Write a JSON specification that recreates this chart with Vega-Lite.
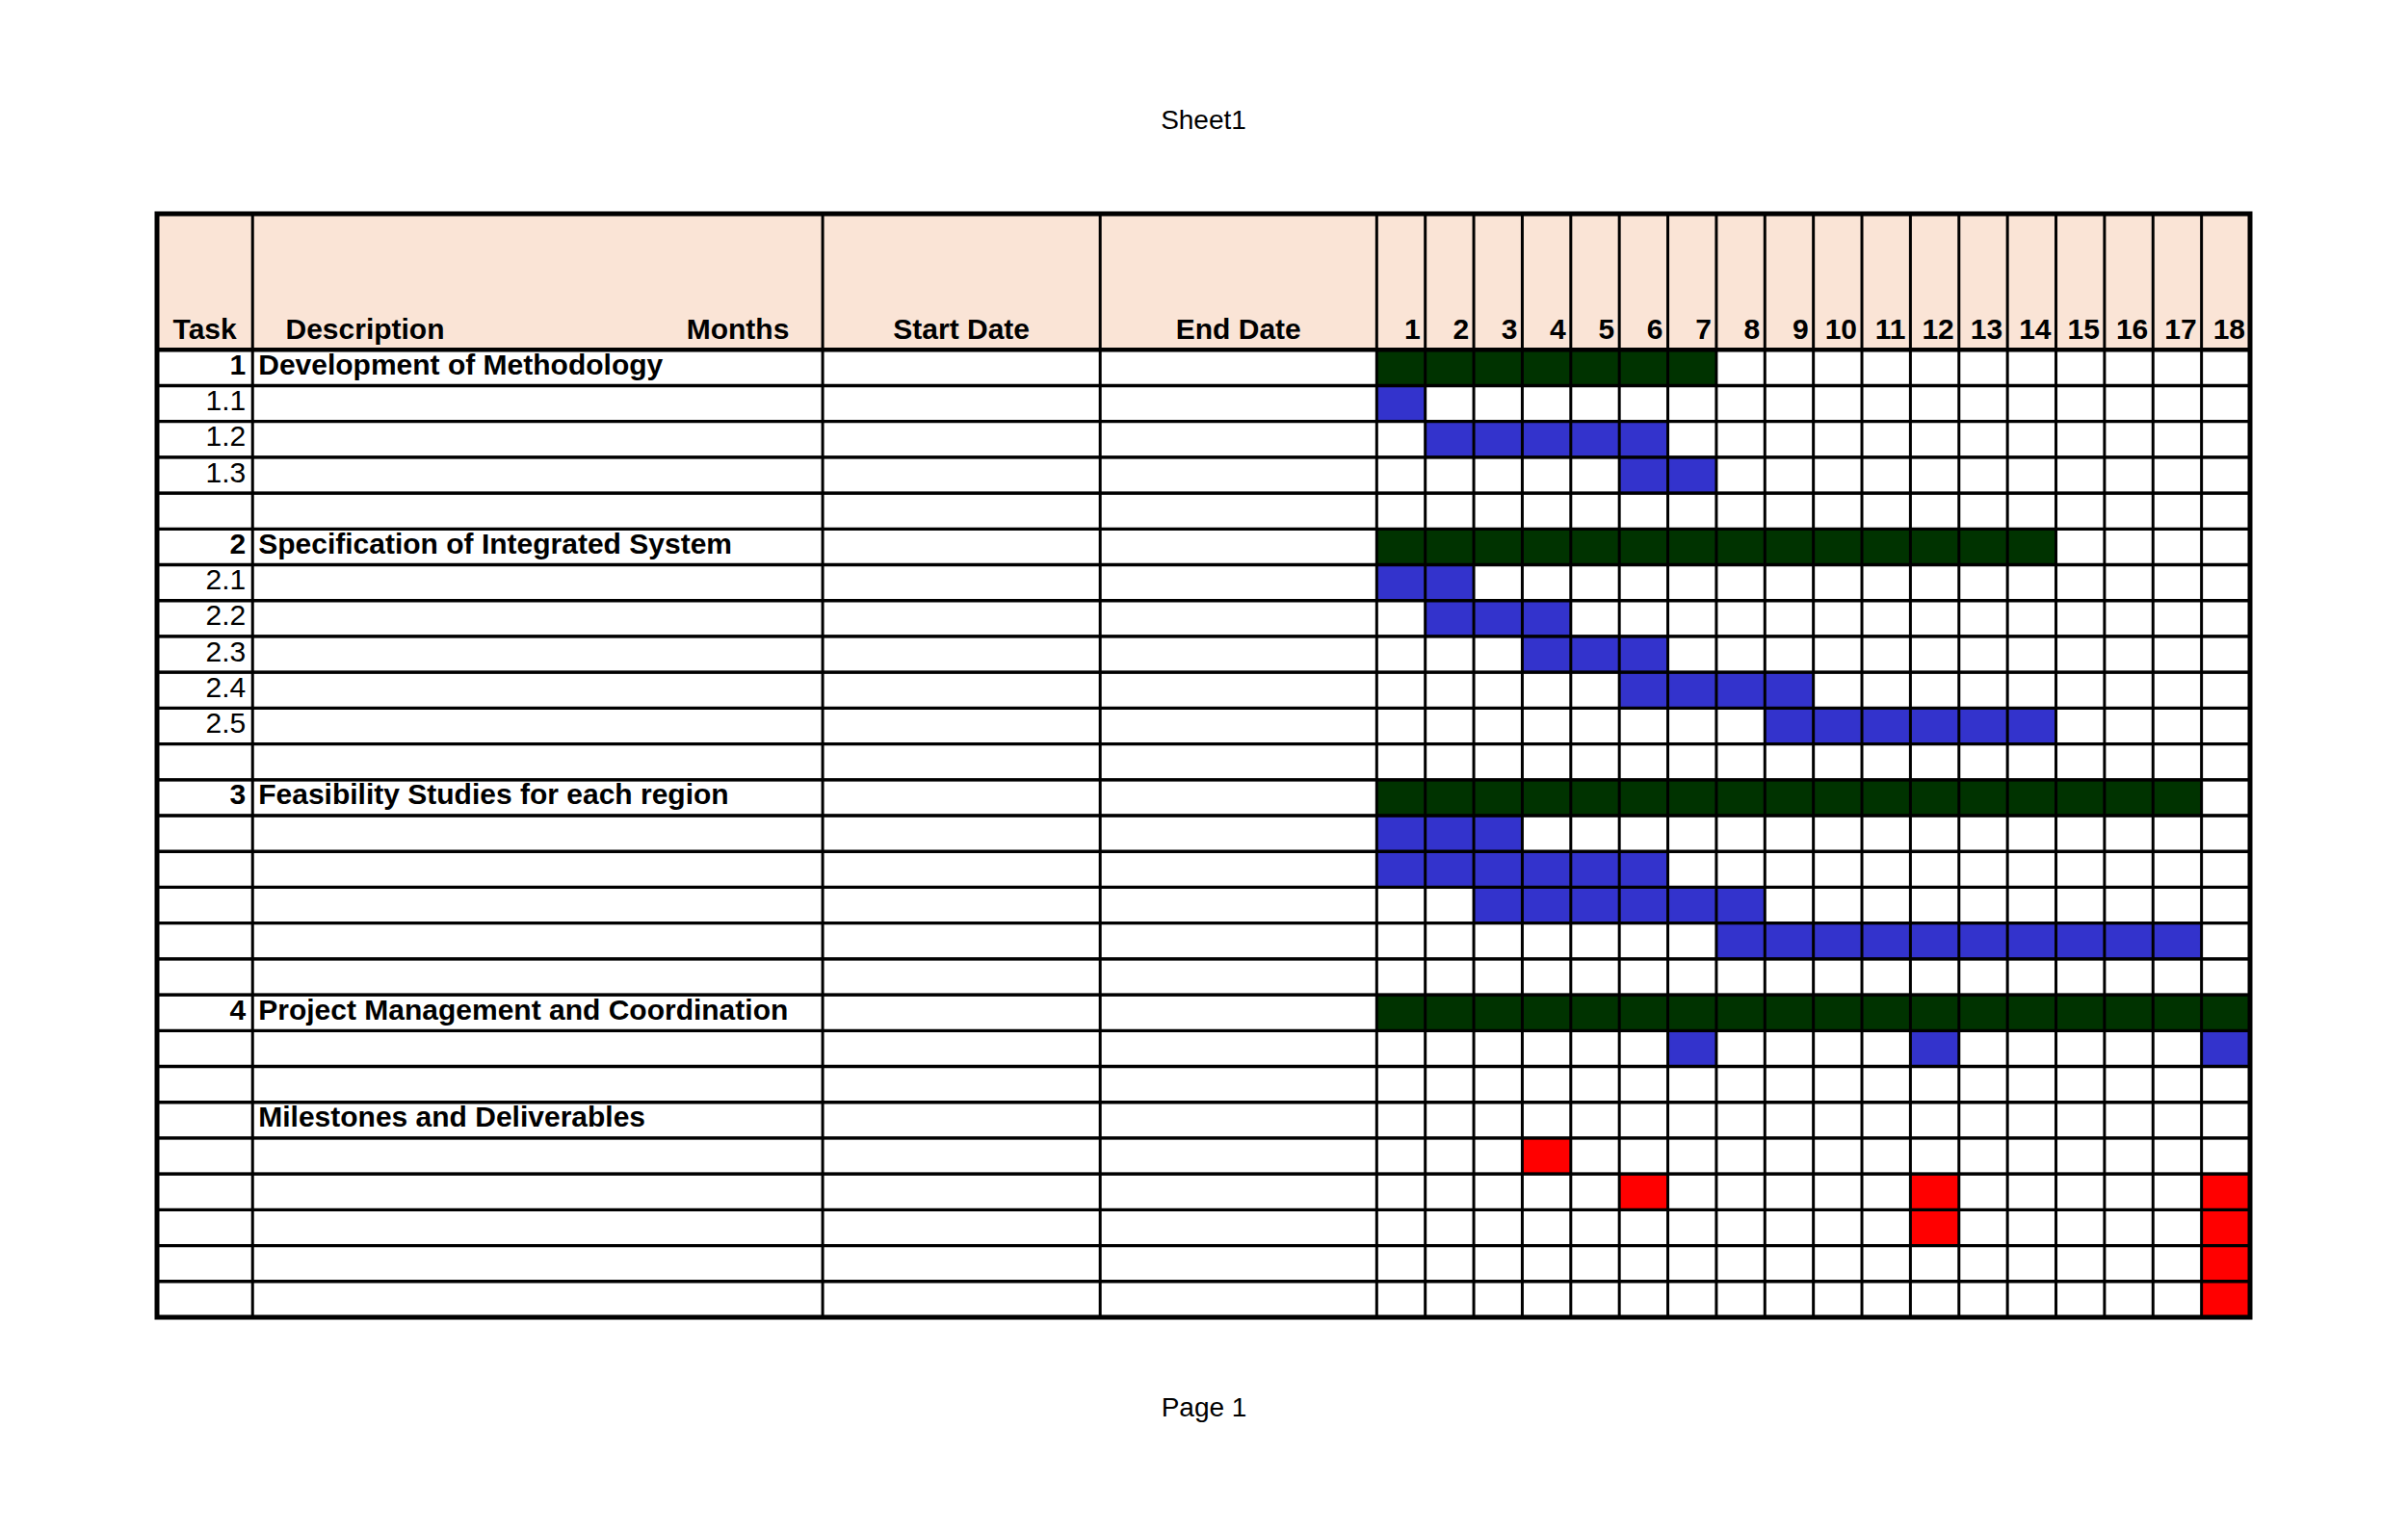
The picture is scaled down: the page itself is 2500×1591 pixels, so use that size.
{
  "$schema": "https://vega.github.io/schema/vega-lite/v6.json",
  "autosize": {"type": "none"},
  "width": 2173,
  "height": 1156,
  "padding": {"left": 163, "top": 217, "right": 164, "bottom": 218},
  "background": "white",
  "title": {"text": "Sheet1", "anchor": "middle", "offset": 55, "baseline": "alphabetic", "font": "Liberation Sans", "fontSize": 28, "fontWeight": "normal", "color": "black"},
  "config": {"view": {"stroke": null}, "text": {"font": "Liberation Sans", "color": "black", "fontSize": 30}},
  "datasets": {
    "cells": [
      {"row": 1, "start": 0, "end": 7, "kind": "summary"},
      {"row": 2, "start": 0, "end": 1, "kind": "activity"},
      {"row": 3, "start": 1, "end": 6, "kind": "activity"},
      {"row": 4, "start": 5, "end": 7, "kind": "activity"},
      {"row": 6, "start": 0, "end": 14, "kind": "summary"},
      {"row": 7, "start": 0, "end": 2, "kind": "activity"},
      {"row": 8, "start": 1, "end": 4, "kind": "activity"},
      {"row": 9, "start": 3, "end": 6, "kind": "activity"},
      {"row": 10, "start": 5, "end": 9, "kind": "activity"},
      {"row": 11, "start": 8, "end": 14, "kind": "activity"},
      {"row": 13, "start": 0, "end": 17, "kind": "summary"},
      {"row": 14, "start": 0, "end": 3, "kind": "activity"},
      {"row": 15, "start": 0, "end": 6, "kind": "activity"},
      {"row": 16, "start": 2, "end": 8, "kind": "activity"},
      {"row": 17, "start": 7, "end": 17, "kind": "activity"},
      {"row": 19, "start": 0, "end": 18, "kind": "summary"},
      {"row": 20, "start": 6, "end": 7, "kind": "activity"},
      {"row": 20, "start": 11, "end": 12, "kind": "activity"},
      {"row": 20, "start": 17, "end": 18, "kind": "activity"},
      {"row": 23, "start": 3, "end": 4, "kind": "milestone"},
      {"row": 24, "start": 5, "end": 6, "kind": "milestone"},
      {"row": 24, "start": 11, "end": 12, "kind": "milestone"},
      {"row": 24, "start": 17, "end": 18, "kind": "milestone"},
      {"row": 25, "start": 11, "end": 12, "kind": "milestone"},
      {"row": 25, "start": 17, "end": 18, "kind": "milestone"},
      {"row": 26, "start": 17, "end": 18, "kind": "milestone"},
      {"row": 27, "start": 17, "end": 18, "kind": "milestone"}
    ],
    "rows": [
      {"row": 1}, {"row": 2}, {"row": 3}, {"row": 4}, {"row": 5}, {"row": 6}, {"row": 7}, {"row": 8}, {"row": 9},
      {"row": 10}, {"row": 11}, {"row": 12}, {"row": 13}, {"row": 14}, {"row": 15}, {"row": 16}, {"row": 17}, {"row": 18},
      {"row": 19}, {"row": 20}, {"row": 21}, {"row": 22}, {"row": 23}, {"row": 24}, {"row": 25}, {"row": 26}, {"row": 27}
    ],
    "tasks": [
      {"row": 1, "task": "1", "description": "Development of Methodology", "level": "main"},
      {"row": 2, "task": "1.1", "level": "sub"},
      {"row": 3, "task": "1.2", "level": "sub"},
      {"row": 4, "task": "1.3", "level": "sub"},
      {"row": 6, "task": "2", "description": "Specification of Integrated System", "level": "main"},
      {"row": 7, "task": "2.1", "level": "sub"},
      {"row": 8, "task": "2.2", "level": "sub"},
      {"row": 9, "task": "2.3", "level": "sub"},
      {"row": 10, "task": "2.4", "level": "sub"},
      {"row": 11, "task": "2.5", "level": "sub"},
      {"row": 13, "task": "3", "description": "Feasibility Studies for each region", "level": "main"},
      {"row": 19, "task": "4", "description": "Project Management and Coordination", "level": "main"},
      {"row": 22, "description": "Milestones and Deliverables", "level": "heading"}
    ],
    "months": [
      {"month": 1}, {"month": 2}, {"month": 3}, {"month": 4}, {"month": 5}, {"month": 6},
      {"month": 7}, {"month": 8}, {"month": 9}, {"month": 10}, {"month": 11}, {"month": 12},
      {"month": 13}, {"month": 14}, {"month": 15}, {"month": 16}, {"month": 17}, {"month": 18}
    ]
  },
  "layer": [
    {
      "data": {"values": [{}]},
      "mark": {"type": "rect", "fill": "#FAE4D6"},
      "encoding": {
        "x": {"datum": -25.14, "type": "quantitative",
          "scale": {"domain": [-25.14, 18], "nice": false, "zero": false}, "axis": null},
        "x2": {"datum": 18},
        "y": {"datum": -3.296, "type": "quantitative",
          "scale": {"domain": [-3.296, 27.5], "reverse": true, "nice": false, "zero": false}, "axis": null},
        "y2": {"datum": 0.5}
      }
    },
    {
      "data": {"name": "cells"},
      "mark": {"type": "bar", "orient": "horizontal", "size": 37.54},
      "encoding": {
        "x": {"field": "start", "type": "quantitative", "axis": null},
        "x2": {"field": "end"},
        "y": {"field": "row", "type": "quantitative", "axis": null},
        "color": {"field": "kind", "type": "nominal",
          "scale": {"domain": ["summary", "activity", "milestone"], "range": ["#003300", "#3333CC", "#FF0000"]},
          "legend": null}
      }
    },
    {
      "data": {"name": "rows"},
      "mark": {"type": "bar", "orient": "horizontal", "size": 37.54, "filled": false, "stroke": "black", "strokeWidth": 3},
      "encoding": {
        "x": {"datum": -25.14, "type": "quantitative", "axis": null},
        "x2": {"datum": 18},
        "y": {"field": "row", "type": "quantitative", "axis": null}
      }
    },
    {
      "data": {"name": "months"},
      "transform": [{"filter": "datum.month < 18"}],
      "mark": {"type": "rule", "stroke": "black", "strokeWidth": 3},
      "encoding": {
        "x": {"field": "month", "type": "quantitative", "axis": null},
        "y": {"datum": -3.296, "type": "quantitative", "axis": null},
        "y2": {"datum": 27.5}
      }
    },
    {
      "data": {"values": [{}]},
      "mark": {"type": "rule", "stroke": "black", "strokeWidth": 3},
      "encoding": {
        "x": {"datum": 0, "type": "quantitative", "axis": null},
        "y": {"datum": -3.296, "type": "quantitative", "axis": null},
        "y2": {"datum": 27.5}
      }
    },
    {
      "data": {"values": [{}]},
      "mark": {"type": "rule", "stroke": "black", "strokeWidth": 3},
      "encoding": {
        "x": {"datum": -5.7, "type": "quantitative", "axis": null},
        "y": {"datum": -3.296, "type": "quantitative", "axis": null},
        "y2": {"datum": 27.5}
      }
    },
    {
      "data": {"values": [{}]},
      "mark": {"type": "rule", "stroke": "black", "strokeWidth": 3},
      "encoding": {
        "x": {"datum": -11.42, "type": "quantitative", "axis": null},
        "y": {"datum": -3.296, "type": "quantitative", "axis": null},
        "y2": {"datum": 27.5}
      }
    },
    {
      "data": {"values": [{}]},
      "mark": {"type": "rule", "stroke": "black", "strokeWidth": 3},
      "encoding": {
        "x": {"datum": -23.17, "type": "quantitative", "axis": null},
        "y": {"datum": -3.296, "type": "quantitative", "axis": null},
        "y2": {"datum": 27.5}
      }
    },
    {
      "data": {"values": [{}]},
      "mark": {"type": "rect", "filled": false, "stroke": "black", "strokeWidth": 5},
      "encoding": {
        "x": {"datum": -25.14, "type": "quantitative", "axis": null},
        "x2": {"datum": 18},
        "y": {"datum": -3.296, "type": "quantitative", "axis": null},
        "y2": {"datum": 27.5}
      }
    },
    {
      "data": {"values": [{}]},
      "mark": {"type": "rule", "stroke": "black", "strokeWidth": 4.5},
      "encoding": {
        "x": {"datum": -25.14, "type": "quantitative", "axis": null},
        "x2": {"datum": 18},
        "y": {"datum": 0.5, "type": "quantitative", "axis": null}
      }
    },
    {
      "data": {"values": [{}]},
      "mark": {"type": "text", "text": "Task", "fontWeight": "bold", "align": "center", "baseline": "alphabetic", "dy": -11},
      "encoding": {
        "x": {"datum": -24.155, "type": "quantitative", "axis": null},
        "y": {"datum": 0.5, "type": "quantitative", "axis": null}
      }
    },
    {
      "data": {"values": [{}]},
      "mark": {"type": "text", "text": "Description", "fontWeight": "bold", "align": "left", "baseline": "alphabetic", "dy": -11},
      "encoding": {
        "x": {"datum": -22.49, "type": "quantitative", "axis": null},
        "y": {"datum": 0.5, "type": "quantitative", "axis": null}
      }
    },
    {
      "data": {"values": [{}]},
      "mark": {"type": "text", "text": "Months", "fontWeight": "bold", "align": "right", "baseline": "alphabetic", "dy": -11},
      "encoding": {
        "x": {"datum": -12.11, "type": "quantitative", "axis": null},
        "y": {"datum": 0.5, "type": "quantitative", "axis": null}
      }
    },
    {
      "data": {"values": [{}]},
      "mark": {"type": "text", "text": "Start Date", "fontWeight": "bold", "align": "center", "baseline": "alphabetic", "dy": -11},
      "encoding": {
        "x": {"datum": -8.56, "type": "quantitative", "axis": null},
        "y": {"datum": 0.5, "type": "quantitative", "axis": null}
      }
    },
    {
      "data": {"values": [{}]},
      "mark": {"type": "text", "text": "End Date", "fontWeight": "bold", "align": "center", "baseline": "alphabetic", "dy": -11},
      "encoding": {
        "x": {"datum": -2.85, "type": "quantitative", "axis": null},
        "y": {"datum": 0.5, "type": "quantitative", "axis": null}
      }
    },
    {
      "data": {"name": "months"},
      "mark": {"type": "text", "fontWeight": "bold", "align": "right", "baseline": "alphabetic", "dx": -5, "dy": -11},
      "encoding": {
        "x": {"field": "month", "type": "quantitative", "axis": null},
        "y": {"datum": 0.5, "type": "quantitative", "axis": null},
        "text": {"field": "month", "type": "nominal"}
      }
    },
    {
      "data": {"name": "tasks"},
      "transform": [{"filter": {"field": "level", "equal": "main"}}],
      "mark": {"type": "text", "fontWeight": "bold", "align": "right", "baseline": "alphabetic", "dx": -7, "dy": 7},
      "encoding": {
        "x": {"datum": -23.17, "type": "quantitative", "axis": null},
        "y": {"field": "row", "type": "quantitative", "axis": null},
        "text": {"field": "task", "type": "nominal"}
      }
    },
    {
      "data": {"name": "tasks"},
      "transform": [{"filter": {"field": "level", "equal": "sub"}}],
      "mark": {"type": "text", "fontWeight": "normal", "align": "right", "baseline": "alphabetic", "dx": -7, "dy": 7},
      "encoding": {
        "x": {"datum": -23.17, "type": "quantitative", "axis": null},
        "y": {"field": "row", "type": "quantitative", "axis": null},
        "text": {"field": "task", "type": "nominal"}
      }
    },
    {
      "data": {"name": "tasks"},
      "transform": [{"filter": {"field": "level", "oneOf": ["main", "heading"]}}],
      "mark": {"type": "text", "fontWeight": "bold", "align": "left", "baseline": "alphabetic", "dx": 6, "dy": 7},
      "encoding": {
        "x": {"datum": -23.17, "type": "quantitative", "axis": null},
        "y": {"field": "row", "type": "quantitative", "axis": null},
        "text": {"field": "description", "type": "nominal"}
      }
    },
    {
      "data": {"values": [{}]},
      "mark": {"type": "text", "text": "Page 1", "fontWeight": "normal", "fontSize": 28, "align": "center", "baseline": "alphabetic"},
      "encoding": {
        "x": {"datum": -3.56, "type": "quantitative", "axis": null},
        "y": {"datum": 30.26, "type": "quantitative", "axis": null}
      }
    }
  ]
}
